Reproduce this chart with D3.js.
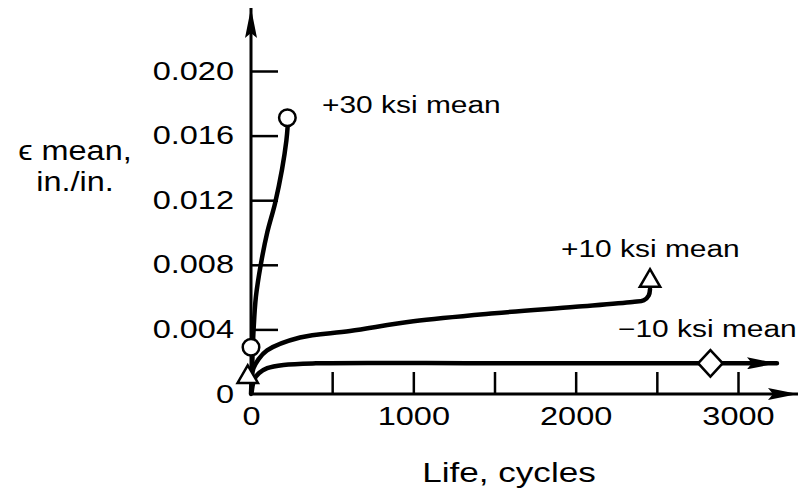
<!DOCTYPE html>
<html>
<head>
<meta charset="utf-8">
<script src="https://cdn.jsdelivr.net/npm/d3@7"></script>
<style>
  html, body { margin: 0; padding: 0; background: #fff; }
  svg { display: block; }
  text { font-family: "Liberation Sans", Arial, Helvetica, sans-serif; fill: #000; }
</style>
</head>
<body>
<svg id="chart" width="800" height="489"></svg>
<script>
// Mean strain vs. life for three mean stress levels
const seriesNames = ["+30 ksi mean", "+10 ksi mean", "\u221210 ksi mean"];

const cyclesP30 = [0, 8, 16, 30, 60, 100, 148, 191, 218, 226];
const strainP30 = [0.0000, 0.0020, 0.0040, 0.0060, 0.0080, 0.0100, 0.0118, 0.0139, 0.0157, 0.0166];

const cyclesP10 = [4, 15, 43, 99, 302, 610, 1000, 1500, 2000, 2350, 2420, 2450, 2458];
const strainP10 = [0.0009, 0.0016, 0.0021, 0.0027, 0.0035, 0.0039, 0.0045, 0.0050, 0.0054, 0.0057, 0.0058, 0.0061, 0.0065];

const cyclesM10 = [4, 20, 50, 100, 200, 400, 1500, 3000, 3240];
const strainM10 = [0.0001, 0.0009, 0.0013, 0.0016, 0.0018, 0.0019, 0.0019, 0.0019, 0.0019];

// Failure points and first-cycle points
const failCycles = [224, 2458, 2830];
const failStrain = [0.0171, 0.0070, 0.0019];
const startCycles = [0, -20];
const startStrain = [0.0029, 0.00105];

const xTickMarks = [500, 1000, 1500, 2000, 2500, 3000];
const xTickLabels = [0, 1000, 2000, 3000];
const yTickMarks = [0.004, 0.008, 0.012, 0.016, 0.020];
const yTickLabels = [0, 0.004, 0.008, 0.012, 0.016, 0.020];

const svg = d3.select("#chart");
const x = d3.scaleLinear().domain([0, 3000]).range([251, 738]);
const y = d3.scaleLinear().domain([0, 0.020]).range([394, 71]);

// Horizontally widened lettering
function widen(sel, k) {
  sel.each(function () {
    const len = this.getComputedTextLength();
    d3.select(this).attr("textLength", len * k).attr("lengthAdjust", "spacingAndGlyphs");
  });
}

// Arrowheads
const defs = svg.append("defs");
defs.append("marker")
  .attr("id", "arrow")
  .attr("viewBox", "0 0 30 12")
  .attr("refX", 30).attr("refY", 6)
  .attr("markerUnits", "userSpaceOnUse")
  .attr("markerWidth", 30).attr("markerHeight", 12)
  .attr("orient", "auto")
  .append("path")
  .attr("d", "M0,0 L30,6 L0,12 L5,6 Z")
  .attr("fill", "#000");

// Axis lines with arrows
svg.append("line")
  .attr("x1", x(0)).attr("y1", y(0) + 1)
  .attr("x2", x(0)).attr("y2", 8)
  .attr("stroke", "#000").attr("stroke-width", 3)
  .attr("marker-end", "url(#arrow)");
svg.append("line")
  .attr("x1", x(0) - 1).attr("y1", y(0))
  .attr("x2", 798).attr("y2", y(0))
  .attr("stroke", "#000").attr("stroke-width", 3)
  .attr("marker-end", "url(#arrow)");

// Tick marks
const yMarks = svg.append("g").attr("transform", `translate(${x(0)},0)`)
  .call(d3.axisLeft(y).tickValues(yTickMarks).tickSize(-27).tickFormat(""));
const xMarks = svg.append("g").attr("transform", `translate(0,${y(0)})`)
  .call(d3.axisBottom(x).tickValues(xTickMarks).tickSize(-22).tickFormat(""));
[yMarks, xMarks].forEach(g => {
  g.select(".domain").remove();
  g.selectAll("line").attr("stroke", "#000").attr("stroke-width", 2.5);
});

// Tick labels
const yLabels = svg.append("g").attr("transform", `translate(${x(0)},0)`)
  .call(d3.axisLeft(y).tickValues(yTickLabels).tickSize(0).tickPadding(17)
    .tickFormat(d => d === 0 ? "0" : d3.format(".3f")(d)));
const xLabels = svg.append("g").attr("transform", `translate(0,${y(0)})`)
  .call(d3.axisBottom(x).tickValues(xTickLabels).tickSize(0).tickPadding(13)
    .tickFormat(d3.format("d")));
[yLabels, xLabels].forEach(g => {
  g.select(".domain").remove();
  g.selectAll("text").attr("font-size", 25).attr("fill", "#000")
    .attr("font-family", "Liberation Sans, Arial, sans-serif");
  widen(g.selectAll("text"), 1.3);
});

// Curves
const line = d3.line()
  .x(d => x(d[0])).y(d => y(d[1]))
  .curve(d3.curveCatmullRom.alpha(0.5));
const series = [
  d3.zip(cyclesP30, strainP30),
  d3.zip(cyclesP10, strainP10),
  d3.zip(cyclesM10, strainM10)
];
series.forEach((pts, i) => {
  svg.append("path")
    .attr("d", line(pts))
    .attr("fill", "none")
    .attr("stroke", "#000")
    .attr("stroke-width", 4.5)
    .attr("stroke-linecap", "round")
    .attr("marker-end", i === 2 ? "url(#arrow)" : null);
});

// Point symbols: circle, triangle, diamond (a square turned 45 degrees)
const symbols = [d3.symbolCircle, d3.symbolTriangle, d3.symbolSquare];
const symbolSize = [215, 180, 300];
function drawSymbol(si, c, e) {
  const turn = si === 2 ? " rotate(45)" : "";
  const squash = si === 2 ? " scale(1,1.08)" : "";
  svg.append("path")
    .attr("d", d3.symbol().type(symbols[si]).size(symbolSize[si])())
    .attr("transform", `translate(${x(c)},${y(e)})${squash}${turn}`)
    .attr("fill", "#fff")
    .attr("stroke", "#000")
    .attr("stroke-width", 2.5);
}
drawSymbol(0, startCycles[0], startStrain[0]);
drawSymbol(1, startCycles[1], startStrain[1]);
failCycles.forEach((c, i) => drawSymbol(i, c, failStrain[i]));

// Series labels
const labelPos = [[322, 113], [561, 257], [618, 337]];
seriesNames.forEach((name, i) => {
  const t = svg.append("text")
    .attr("x", labelPos[i][0]).attr("y", labelPos[i][1])
    .attr("font-size", 23)
    .text(name);
  widen(t, 1.3);
});

// Axis titles
const yt1 = svg.append("text").attr("text-anchor", "middle").attr("font-size", 27)
  .attr("x", 75).attr("y", 160).text("\u03F5 mean,");
const yt2 = svg.append("text").attr("text-anchor", "middle").attr("font-size", 27)
  .attr("x", 75).attr("y", 191).text("in./in.");
widen(yt1, 1.2);
widen(yt2, 1.2);

const xt = svg.append("text")
  .attr("x", 509).attr("y", 482)
  .attr("text-anchor", "middle").attr("font-size", 27)
  .text("Life, cycles");
widen(xt, 1.3);
</script>
</body>
</html>
